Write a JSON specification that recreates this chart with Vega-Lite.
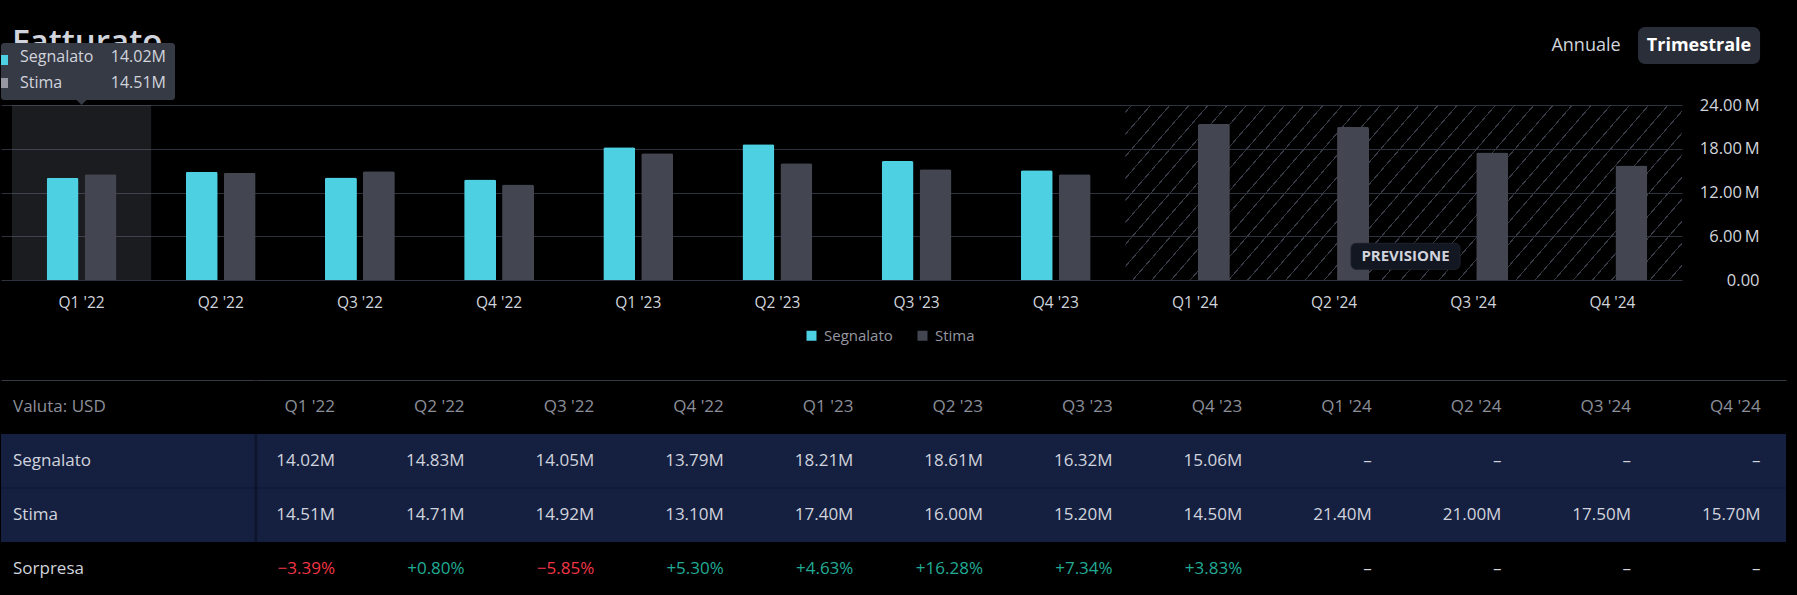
{
"$schema": "https://vega.github.io/schema/vega-lite/v6.json",
"background": "#000000",
"padding": {"left": 0, "top": 26, "right": 12, "bottom": 10},
"spacing": 67,
"columns": 1,
"datasets": {
"rev": [
{"q": "Q1 '22", "Segnalato": 14020000, "Stima": 14510000, "Sorpresa": -0.0339},
{"q": "Q2 '22", "Segnalato": 14830000, "Stima": 14710000, "Sorpresa": 0.0080},
{"q": "Q3 '22", "Segnalato": 14050000, "Stima": 14920000, "Sorpresa": -0.0585},
{"q": "Q4 '22", "Segnalato": 13790000, "Stima": 13100000, "Sorpresa": 0.0530},
{"q": "Q1 '23", "Segnalato": 18210000, "Stima": 17400000, "Sorpresa": 0.0463},
{"q": "Q2 '23", "Segnalato": 18610000, "Stima": 16000000, "Sorpresa": 0.1628},
{"q": "Q3 '23", "Segnalato": 16320000, "Stima": 15200000, "Sorpresa": 0.0734},
{"q": "Q4 '23", "Segnalato": 15060000, "Stima": 14500000, "Sorpresa": 0.0383},
{"q": "Q1 '24", "Segnalato": null, "Stima": 21400000, "Sorpresa": null},
{"q": "Q2 '24", "Segnalato": null, "Stima": 21000000, "Sorpresa": null},
{"q": "Q3 '24", "Segnalato": null, "Stima": 17500000, "Sorpresa": null},
{"q": "Q4 '24", "Segnalato": null, "Stima": 15700000, "Sorpresa": null}
]
},
"concat": [
{
"width": 1681,
"height": 175,
"layer": [
{
"data": {"name": "rev"},
"transform": [{"filter": "datum.q == \"Q1 '22\""}],
"mark": {"type": "rect", "fill": "#7a7e8c", "opacity": 0.22},
"encoding": {
"x": {"field": "q", "type": "nominal"},
"y": {"datum": 24000000, "type": "quantitative"},
"y2": {"datum": 0}
}
},
{
"data": {"name": "rev"},
"transform": [{"filter": "datum.q == \"Q1 '24\""}],
"mark": {"type": "rect", "fill": {"gradient": "linear", "x1": 0, "y1": 0, "x2": 1.1848, "y2": 0.3239, "stops": [
{"offset": 0, "color": "rgba(54,58,69,0)"},
{"offset": 0.008, "color": "rgba(54,58,69,0)"}, {"offset": 0.008, "color": "#363a45"}, {"offset": 0.0099, "color": "#363a45"}, {"offset": 0.0099, "color": "rgba(54,58,69,0)"},
{"offset": 0.0350, "color": "rgba(54,58,69,0)"}, {"offset": 0.0350, "color": "#363a45"}, {"offset": 0.0369, "color": "#363a45"}, {"offset": 0.0369, "color": "rgba(54,58,69,0)"},
{"offset": 0.0621, "color": "rgba(54,58,69,0)"}, {"offset": 0.0621, "color": "#363a45"}, {"offset": 0.0640, "color": "#363a45"}, {"offset": 0.0640, "color": "rgba(54,58,69,0)"},
{"offset": 0.0891, "color": "rgba(54,58,69,0)"}, {"offset": 0.0891, "color": "#363a45"}, {"offset": 0.0910, "color": "#363a45"}, {"offset": 0.0910, "color": "rgba(54,58,69,0)"},
{"offset": 0.1161, "color": "rgba(54,58,69,0)"}, {"offset": 0.1161, "color": "#363a45"}, {"offset": 0.1180, "color": "#363a45"}, {"offset": 0.1180, "color": "rgba(54,58,69,0)"},
{"offset": 0.1431, "color": "rgba(54,58,69,0)"}, {"offset": 0.1431, "color": "#363a45"}, {"offset": 0.1450, "color": "#363a45"}, {"offset": 0.1450, "color": "rgba(54,58,69,0)"},
{"offset": 0.1702, "color": "rgba(54,58,69,0)"}, {"offset": 0.1702, "color": "#363a45"}, {"offset": 0.1721, "color": "#363a45"}, {"offset": 0.1721, "color": "rgba(54,58,69,0)"},
{"offset": 0.1972, "color": "rgba(54,58,69,0)"}, {"offset": 0.1972, "color": "#363a45"}, {"offset": 0.1991, "color": "#363a45"}, {"offset": 0.1991, "color": "rgba(54,58,69,0)"},
{"offset": 0.2242, "color": "rgba(54,58,69,0)"}, {"offset": 0.2242, "color": "#363a45"}, {"offset": 0.2261, "color": "#363a45"}, {"offset": 0.2261, "color": "rgba(54,58,69,0)"},
{"offset": 0.2512, "color": "rgba(54,58,69,0)"}, {"offset": 0.2512, "color": "#363a45"}, {"offset": 0.2531, "color": "#363a45"}, {"offset": 0.2531, "color": "rgba(54,58,69,0)"},
{"offset": 0.2783, "color": "rgba(54,58,69,0)"}, {"offset": 0.2783, "color": "#363a45"}, {"offset": 0.2802, "color": "#363a45"}, {"offset": 0.2802, "color": "rgba(54,58,69,0)"},
{"offset": 0.3053, "color": "rgba(54,58,69,0)"}, {"offset": 0.3053, "color": "#363a45"}, {"offset": 0.3072, "color": "#363a45"}, {"offset": 0.3072, "color": "rgba(54,58,69,0)"},
{"offset": 0.3323, "color": "rgba(54,58,69,0)"}, {"offset": 0.3323, "color": "#363a45"}, {"offset": 0.3342, "color": "#363a45"}, {"offset": 0.3342, "color": "rgba(54,58,69,0)"},
{"offset": 0.3594, "color": "rgba(54,58,69,0)"}, {"offset": 0.3594, "color": "#363a45"}, {"offset": 0.3613, "color": "#363a45"}, {"offset": 0.3613, "color": "rgba(54,58,69,0)"},
{"offset": 0.3864, "color": "rgba(54,58,69,0)"}, {"offset": 0.3864, "color": "#363a45"}, {"offset": 0.3883, "color": "#363a45"}, {"offset": 0.3883, "color": "rgba(54,58,69,0)"},
{"offset": 0.4134, "color": "rgba(54,58,69,0)"}, {"offset": 0.4134, "color": "#363a45"}, {"offset": 0.4153, "color": "#363a45"}, {"offset": 0.4153, "color": "rgba(54,58,69,0)"},
{"offset": 0.4404, "color": "rgba(54,58,69,0)"}, {"offset": 0.4404, "color": "#363a45"}, {"offset": 0.4423, "color": "#363a45"}, {"offset": 0.4423, "color": "rgba(54,58,69,0)"},
{"offset": 0.4675, "color": "rgba(54,58,69,0)"}, {"offset": 0.4675, "color": "#363a45"}, {"offset": 0.4694, "color": "#363a45"}, {"offset": 0.4694, "color": "rgba(54,58,69,0)"},
{"offset": 0.4945, "color": "rgba(54,58,69,0)"}, {"offset": 0.4945, "color": "#363a45"}, {"offset": 0.4964, "color": "#363a45"}, {"offset": 0.4964, "color": "rgba(54,58,69,0)"},
{"offset": 0.5215, "color": "rgba(54,58,69,0)"}, {"offset": 0.5215, "color": "#363a45"}, {"offset": 0.5234, "color": "#363a45"}, {"offset": 0.5234, "color": "rgba(54,58,69,0)"},
{"offset": 0.5485, "color": "rgba(54,58,69,0)"}, {"offset": 0.5485, "color": "#363a45"}, {"offset": 0.5504, "color": "#363a45"}, {"offset": 0.5504, "color": "rgba(54,58,69,0)"},
{"offset": 0.5756, "color": "rgba(54,58,69,0)"}, {"offset": 0.5756, "color": "#363a45"}, {"offset": 0.5775, "color": "#363a45"}, {"offset": 0.5775, "color": "rgba(54,58,69,0)"},
{"offset": 0.6026, "color": "rgba(54,58,69,0)"}, {"offset": 0.6026, "color": "#363a45"}, {"offset": 0.6045, "color": "#363a45"}, {"offset": 0.6045, "color": "rgba(54,58,69,0)"},
{"offset": 0.6296, "color": "rgba(54,58,69,0)"}, {"offset": 0.6296, "color": "#363a45"}, {"offset": 0.6315, "color": "#363a45"}, {"offset": 0.6315, "color": "rgba(54,58,69,0)"},
{"offset": 0.6566, "color": "rgba(54,58,69,0)"}, {"offset": 0.6566, "color": "#363a45"}, {"offset": 0.6585, "color": "#363a45"}, {"offset": 0.6585, "color": "rgba(54,58,69,0)"},
{"offset": 0.6837, "color": "rgba(54,58,69,0)"}, {"offset": 0.6837, "color": "#363a45"}, {"offset": 0.6856, "color": "#363a45"}, {"offset": 0.6856, "color": "rgba(54,58,69,0)"},
{"offset": 0.7107, "color": "rgba(54,58,69,0)"}, {"offset": 0.7107, "color": "#363a45"}, {"offset": 0.7126, "color": "#363a45"}, {"offset": 0.7126, "color": "rgba(54,58,69,0)"},
{"offset": 0.7377, "color": "rgba(54,58,69,0)"}, {"offset": 0.7377, "color": "#363a45"}, {"offset": 0.7396, "color": "#363a45"}, {"offset": 0.7396, "color": "rgba(54,58,69,0)"},
{"offset": 0.7648, "color": "rgba(54,58,69,0)"}, {"offset": 0.7648, "color": "#363a45"}, {"offset": 0.7667, "color": "#363a45"}, {"offset": 0.7667, "color": "rgba(54,58,69,0)"},
{"offset": 0.7918, "color": "rgba(54,58,69,0)"}, {"offset": 0.7918, "color": "#363a45"}, {"offset": 0.7937, "color": "#363a45"}, {"offset": 0.7937, "color": "rgba(54,58,69,0)"},
{"offset": 0.8188, "color": "rgba(54,58,69,0)"}, {"offset": 0.8188, "color": "#363a45"}, {"offset": 0.8207, "color": "#363a45"}, {"offset": 0.8207, "color": "rgba(54,58,69,0)"},
{"offset": 0.8458, "color": "rgba(54,58,69,0)"}, {"offset": 0.8458, "color": "#363a45"}, {"offset": 0.8477, "color": "#363a45"}, {"offset": 0.8477, "color": "rgba(54,58,69,0)"},
{"offset": 0.8729, "color": "rgba(54,58,69,0)"}, {"offset": 0.8729, "color": "#363a45"}, {"offset": 0.8748, "color": "#363a45"}, {"offset": 0.8748, "color": "rgba(54,58,69,0)"},
{"offset": 0.8999, "color": "rgba(54,58,69,0)"}, {"offset": 0.8999, "color": "#363a45"}, {"offset": 0.9018, "color": "#363a45"}, {"offset": 0.9018, "color": "rgba(54,58,69,0)"},
{"offset": 0.9269, "color": "rgba(54,58,69,0)"}, {"offset": 0.9269, "color": "#363a45"}, {"offset": 0.9288, "color": "#363a45"}, {"offset": 0.9288, "color": "rgba(54,58,69,0)"},
{"offset": 0.9539, "color": "rgba(54,58,69,0)"}, {"offset": 0.9539, "color": "#363a45"}, {"offset": 0.9558, "color": "#363a45"}, {"offset": 0.9558, "color": "rgba(54,58,69,0)"},
{"offset": 0.9810, "color": "rgba(54,58,69,0)"}, {"offset": 0.9810, "color": "#363a45"}, {"offset": 0.9829, "color": "#363a45"}, {"offset": 0.9829, "color": "rgba(54,58,69,0)"},
{"offset": 1, "color": "rgba(54,58,69,0)"}
]}},
"encoding": {
"x": {"datum": "Q1 '24", "type": "nominal", "bandPosition": 0},
"x2": {"datum": "Q4 '24", "bandPosition": 1},
"y": {"datum": 24000000, "type": "quantitative"},
"y2": {"datum": 0}
}
},
{
"data": {"name": "rev"},
"transform": [{"fold": ["Segnalato", "Stima"], "as": ["key", "value"]}],
"mark": {"type": "bar", "cornerRadiusTopLeft": 2, "cornerRadiusTopRight": 2},
"encoding": {
"x": {"field": "q", "type": "nominal",
"scale": {"domain": ["Q1 '22", "Q2 '22", "Q3 '22", "Q4 '22", "Q1 '23", "Q2 '23", "Q3 '23", "Q4 '23", "Q1 '24", "Q2 '24", "Q3 '24", "Q4 '24"], "paddingInner": 0, "paddingOuter": 0.0395, "align": 1},
"axis": {"title": null, "labelAngle": 0, "labelAlign": "center", "bandPosition": 0.5, "labelColor": "#d1d4dc", "labelFontSize": 15.5, "labelPadding": 22, "domain": false, "ticks": false, "grid": false}},
"xOffset": {"field": "key", "type": "nominal", "scale": {"domain": ["Segnalato", "Stima"], "paddingInner": 0.158, "paddingOuter": 0.914}},
"y": {"field": "value", "type": "quantitative",
"scale": {"domain": [0, 24000000], "nice": false, "zero": true},
"axis": {"orient": "right", "title": null, "values": [0, 6000000, 12000000, 18000000, 24000000], "labelExpr": "datum.value == 0 ? '0.00' : format(datum.value / 1000000, '.2f') + '\u2009M'", "grid": true, "gridColor": "#2e323e", "gridWidth": 1, "domain": false, "ticks": false, "labelAlign": "right", "labelPadding": 77, "labelFontSize": 16.5, "labelColor": "#d1d4dc"}},
"color": {"field": "key", "type": "nominal",
"scale": {"domain": ["Segnalato", "Stima"], "range": ["#4dd0e1", "#434651"]},
"legend": {"orient": "none", "legendX": 803, "legendY": 223, "direction": "horizontal", "title": null, "symbolType": "square", "symbolSize": 100, "symbolStrokeWidth": 0, "symbolOpacity": 1, "labelFontSize": 15, "labelColor": "#9598a1", "labelOffset": 5, "columnPadding": 22, "padding": 0}}
}
},
{
"data": {"name": "rev"},
"transform": [{"filter": "datum.q == \"Q1 '22\""}],
"mark": {"type": "rect", "fill": "#131722", "stroke": "#1e222d", "strokeWidth": 1, "cornerRadius": 5},
"encoding": {
"x": {"datum": "Q2 '24", "type": "nominal", "bandPosition": 0.6216},
"x2": {"datum": "Q3 '24", "bandPosition": 0.4048},
"y": {"datum": 5033000, "type": "quantitative"},
"y2": {"datum": 1467000}
}
},
{
"data": {"name": "rev"},
"transform": [{"filter": "datum.q == \"Q1 '22\""}],
"mark": {"type": "text", "text": "PREVISIONE", "align": "center", "baseline": "middle", "fontSize": 15, "fontWeight": "bold", "color": "#d1d4dc"},
"encoding": {
"x": {"datum": "Q2 '24", "type": "nominal", "bandPosition": 1.013},
"y": {"datum": 3250000, "type": "quantitative"}
}
},
{
"data": {"name": "rev"},
"transform": [{"filter": "datum.q == \"Q1 '22\""}],
"mark": {"type": "text", "text": "Fatturato", "align": "left", "baseline": "alphabetic", "fontSize": 33, "fontWeight": 600, "color": "#d1d4dc"},
"encoding": {
"x": {"datum": "Q1 '22", "type": "nominal", "bandPosition": 0},
"y": {"datum": 31186000, "type": "quantitative"}
}
},
{
"data": {"name": "rev"},
"transform": [{"filter": "datum.q == \"Q1 '22\""}],
"mark": {"type": "rect", "fill": "#363a45", "cornerRadius": 3},
"encoding": {
"x": {"datum": "Q1 '22", "type": "nominal", "bandPosition": -0.079},
"x2": {"datum": "Q1 '22", "bandPosition": 1.1713},
"y": {"datum": 32503000, "type": "quantitative"},
"y2": {"datum": 24686000}
}
},
{
"data": {"name": "rev"},
"transform": [{"filter": "datum.q == \"Q1 '22\""}],
"mark": {"type": "point", "shape": "M-1,-0.5L1,-0.5L0,0.5Z", "size": 100, "filled": true, "fill": "#363a45", "strokeWidth": 0, "opacity": 1},
"encoding": {
"x": {"datum": "Q1 '22", "type": "nominal", "bandPosition": 0.5},
"y": {"datum": 24343000, "type": "quantitative"}
}
},
{
"data": {"name": "rev"},
"transform": [{"filter": "datum.q == \"Q1 '22\""}],
"mark": {"type": "rect", "fill": "#4dd0e1"},
"encoding": {
"x": {"datum": "Q1 '22", "type": "nominal", "bandPosition": -0.079},
"x2": {"datum": "Q1 '22", "bandPosition": -0.0287},
"y": {"datum": 30857000, "type": "quantitative"},
"y2": {"datum": 29486000}
}
},
{
"data": {"name": "rev"},
"transform": [{"filter": "datum.q == \"Q1 '22\""}],
"mark": {"type": "rect", "fill": "#9598a1"},
"encoding": {
"x": {"datum": "Q1 '22", "type": "nominal", "bandPosition": -0.079},
"x2": {"datum": "Q1 '22", "bandPosition": -0.0287},
"y": {"datum": 27703000, "type": "quantitative"},
"y2": {"datum": 26331000}
}
},
{
"data": {"name": "rev"},
"transform": [{"filter": "datum.q == \"Q1 '22\""}],
"mark": {"type": "text", "text": "Segnalato", "align": "left", "baseline": "middle", "fontSize": 16, "color": "#d1d4dc"},
"encoding": {
"x": {"datum": "Q1 '22", "type": "nominal", "bandPosition": 0.0575},
"y": {"datum": 30580000, "type": "quantitative"}
}
},
{
"data": {"name": "rev"},
"transform": [{"filter": "datum.q == \"Q1 '22\""}],
"mark": {"type": "text", "text": "Stima", "align": "left", "baseline": "middle", "fontSize": 16, "color": "#d1d4dc"},
"encoding": {
"x": {"datum": "Q1 '22", "type": "nominal", "bandPosition": 0.0575},
"y": {"datum": 27017000, "type": "quantitative"}
}
},
{
"data": {"name": "rev"},
"transform": [{"filter": "datum.q == \"Q1 '22\""}],
"mark": {"type": "text", "align": "right", "baseline": "middle", "fontSize": 16, "color": "#d1d4dc"},
"encoding": {
"x": {"datum": "Q1 '22", "type": "nominal", "bandPosition": 1.1066},
"y": {"datum": 30580000, "type": "quantitative"},
"text": {"field": "Segnalato", "type": "quantitative", "format": ".4s"}
}
},
{
"data": {"name": "rev"},
"transform": [{"filter": "datum.q == \"Q1 '22\""}],
"mark": {"type": "text", "align": "right", "baseline": "middle", "fontSize": 16, "color": "#d1d4dc"},
"encoding": {
"x": {"datum": "Q1 '22", "type": "nominal", "bandPosition": 1.1066},
"y": {"datum": 27017000, "type": "quantitative"},
"text": {"field": "Stima", "type": "quantitative", "format": ".4s"}
}
},
{
"data": {"name": "rev"},
"transform": [{"filter": "datum.q == \"Q1 '22\""}],
"mark": {"type": "rect", "fill": "#2a2e39", "cornerRadius": 7},
"encoding": {
"x": {"datum": "Q4 '24", "type": "nominal", "bandPosition": 0.684},
"x2": {"datum": "Q4 '24", "bandPosition": 1.561},
"y": {"datum": 34697000, "type": "quantitative"},
"y2": {"datum": 29623000}
}
},
{
"data": {"name": "rev"},
"transform": [{"filter": "datum.q == \"Q1 '22\""}],
"mark": {"type": "text", "text": "Annuale", "align": "center", "baseline": "middle", "fontSize": 18, "color": "#d1d4dc"},
"encoding": {
"x": {"datum": "Q4 '24", "type": "nominal", "bandPosition": 0.3102},
"y": {"datum": 32091000, "type": "quantitative"}
}
},
{
"data": {"name": "rev"},
"transform": [{"filter": "datum.q == \"Q1 '22\""}],
"mark": {"type": "text", "text": "Trimestrale", "align": "center", "baseline": "middle", "fontSize": 18, "fontWeight": "bold", "color": "#ffffff"},
"encoding": {
"x": {"datum": "Q4 '24", "type": "nominal", "bandPosition": 1.1222},
"y": {"datum": 32091000, "type": "quantitative"}
}
}
]
},
{
"width": 1785,
"height": 216,
"layer": [
{
"data": {"name": "rev"},
"transform": [{"filter": "datum.q == \"Q1 '22\""}, {"fold": ["Segnalato", "Stima"], "as": ["key", "value"]}],
"mark": {"type": "rect", "fill": "#152041"},
"encoding": {
"y": {"field": "key", "type": "nominal"}
}
},
{
"data": {"name": "rev"},
"transform": [{"filter": "datum.q == \"Q1 '22\""}],
"mark": {"type": "rule", "color": "#0e1631", "strokeWidth": 1},
"encoding": {
"y": {"datum": "Stima", "type": "nominal", "bandPosition": 0}
}
},
{
"data": {"name": "rev"},
"transform": [{"filter": "datum.q == \"Q1 '22\""}],
"mark": {"type": "rule", "color": "#000000", "opacity": 0.3, "strokeWidth": 3},
"encoding": {
"x": {"datum": "Q1 '22", "type": "nominal", "bandPosition": 0.39}
}
},
{
"data": {"name": "rev"},
"mark": {"type": "text", "align": "right", "baseline": "middle", "fontSize": 17, "color": "#8c8f99"},
"encoding": {
"x": {"field": "q", "type": "nominal", "bandPosition": 1},
"y": {"datum": "Valuta: USD", "type": "nominal"},
"text": {"field": "q", "type": "nominal"}
}
},
{
"data": {"name": "rev"},
"transform": [{"fold": ["Segnalato", "Stima"], "as": ["key", "value"]}, {"filter": "isValid(datum.value)"}],
"mark": {"type": "text", "align": "right", "baseline": "middle", "fontSize": 17, "color": "#d1d4dc"},
"encoding": {
"x": {"field": "q", "type": "nominal", "bandPosition": 1,
"scale": {"domain": ["Q1 '22", "Q2 '22", "Q3 '22", "Q4 '22", "Q1 '23", "Q2 '23", "Q3 '23", "Q4 '23", "Q1 '24", "Q2 '24", "Q3 '24", "Q4 '24"], "paddingInner": 0, "paddingOuter": 0.88657, "align": 0.88947},
"axis": {"orient": "top", "title": null, "labels": false, "ticks": false, "domain": true, "domainColor": "#363a45", "domainWidth": 1, "grid": false, "minExtent": 0}},
"y": {"field": "key", "type": "nominal",
"scale": {"domain": ["Valuta: USD", "Segnalato", "Stima", "Sorpresa"], "paddingInner": 0, "paddingOuter": 0},
"axis": {"orient": "left", "title": null, "labelAlign": "left", "labelPadding": -11.5, "labelFontSize": 17, "labelColor": {"condition": {"test": "datum.value === 'Valuta: USD'", "value": "#8c8f99"}, "value": "#d1d4dc"}, "domain": false, "ticks": false, "grid": false, "minExtent": 0, "maxExtent": 0}},
"text": {"field": "value", "type": "quantitative", "format": ".4s"}
}
},
{
"data": {"name": "rev"},
"transform": [{"fold": ["Sorpresa"], "as": ["key", "value"]}, {"filter": "isValid(datum.value)"}],
"mark": {"type": "text", "align": "right", "baseline": "middle", "fontSize": 17},
"encoding": {
"x": {"field": "q", "type": "nominal", "bandPosition": 1},
"y": {"field": "key", "type": "nominal"},
"text": {"field": "value", "type": "quantitative", "format": "+.2%"},
"color": {"condition": {"test": "datum.value < 0", "value": "#f23645"}, "value": "#22ab94"}
}
},
{
"data": {"name": "rev"},
"transform": [{"fold": ["Segnalato", "Stima", "Sorpresa"], "as": ["key", "value"]}, {"filter": "!isValid(datum.value)"}],
"mark": {"type": "text", "text": "–", "align": "right", "baseline": "middle", "fontSize": 17, "color": "#d1d4dc"},
"encoding": {
"x": {"field": "q", "type": "nominal", "bandPosition": 1},
"y": {"field": "key", "type": "nominal"}
}
}
]
}
],
"config": {
"view": {"stroke": null},
"font": "Open Sans",
"axis": {"labelFont": "Open Sans"},
"legend": {"labelFont": "Open Sans"},
"text": {"font": "Open Sans"}
}
}
